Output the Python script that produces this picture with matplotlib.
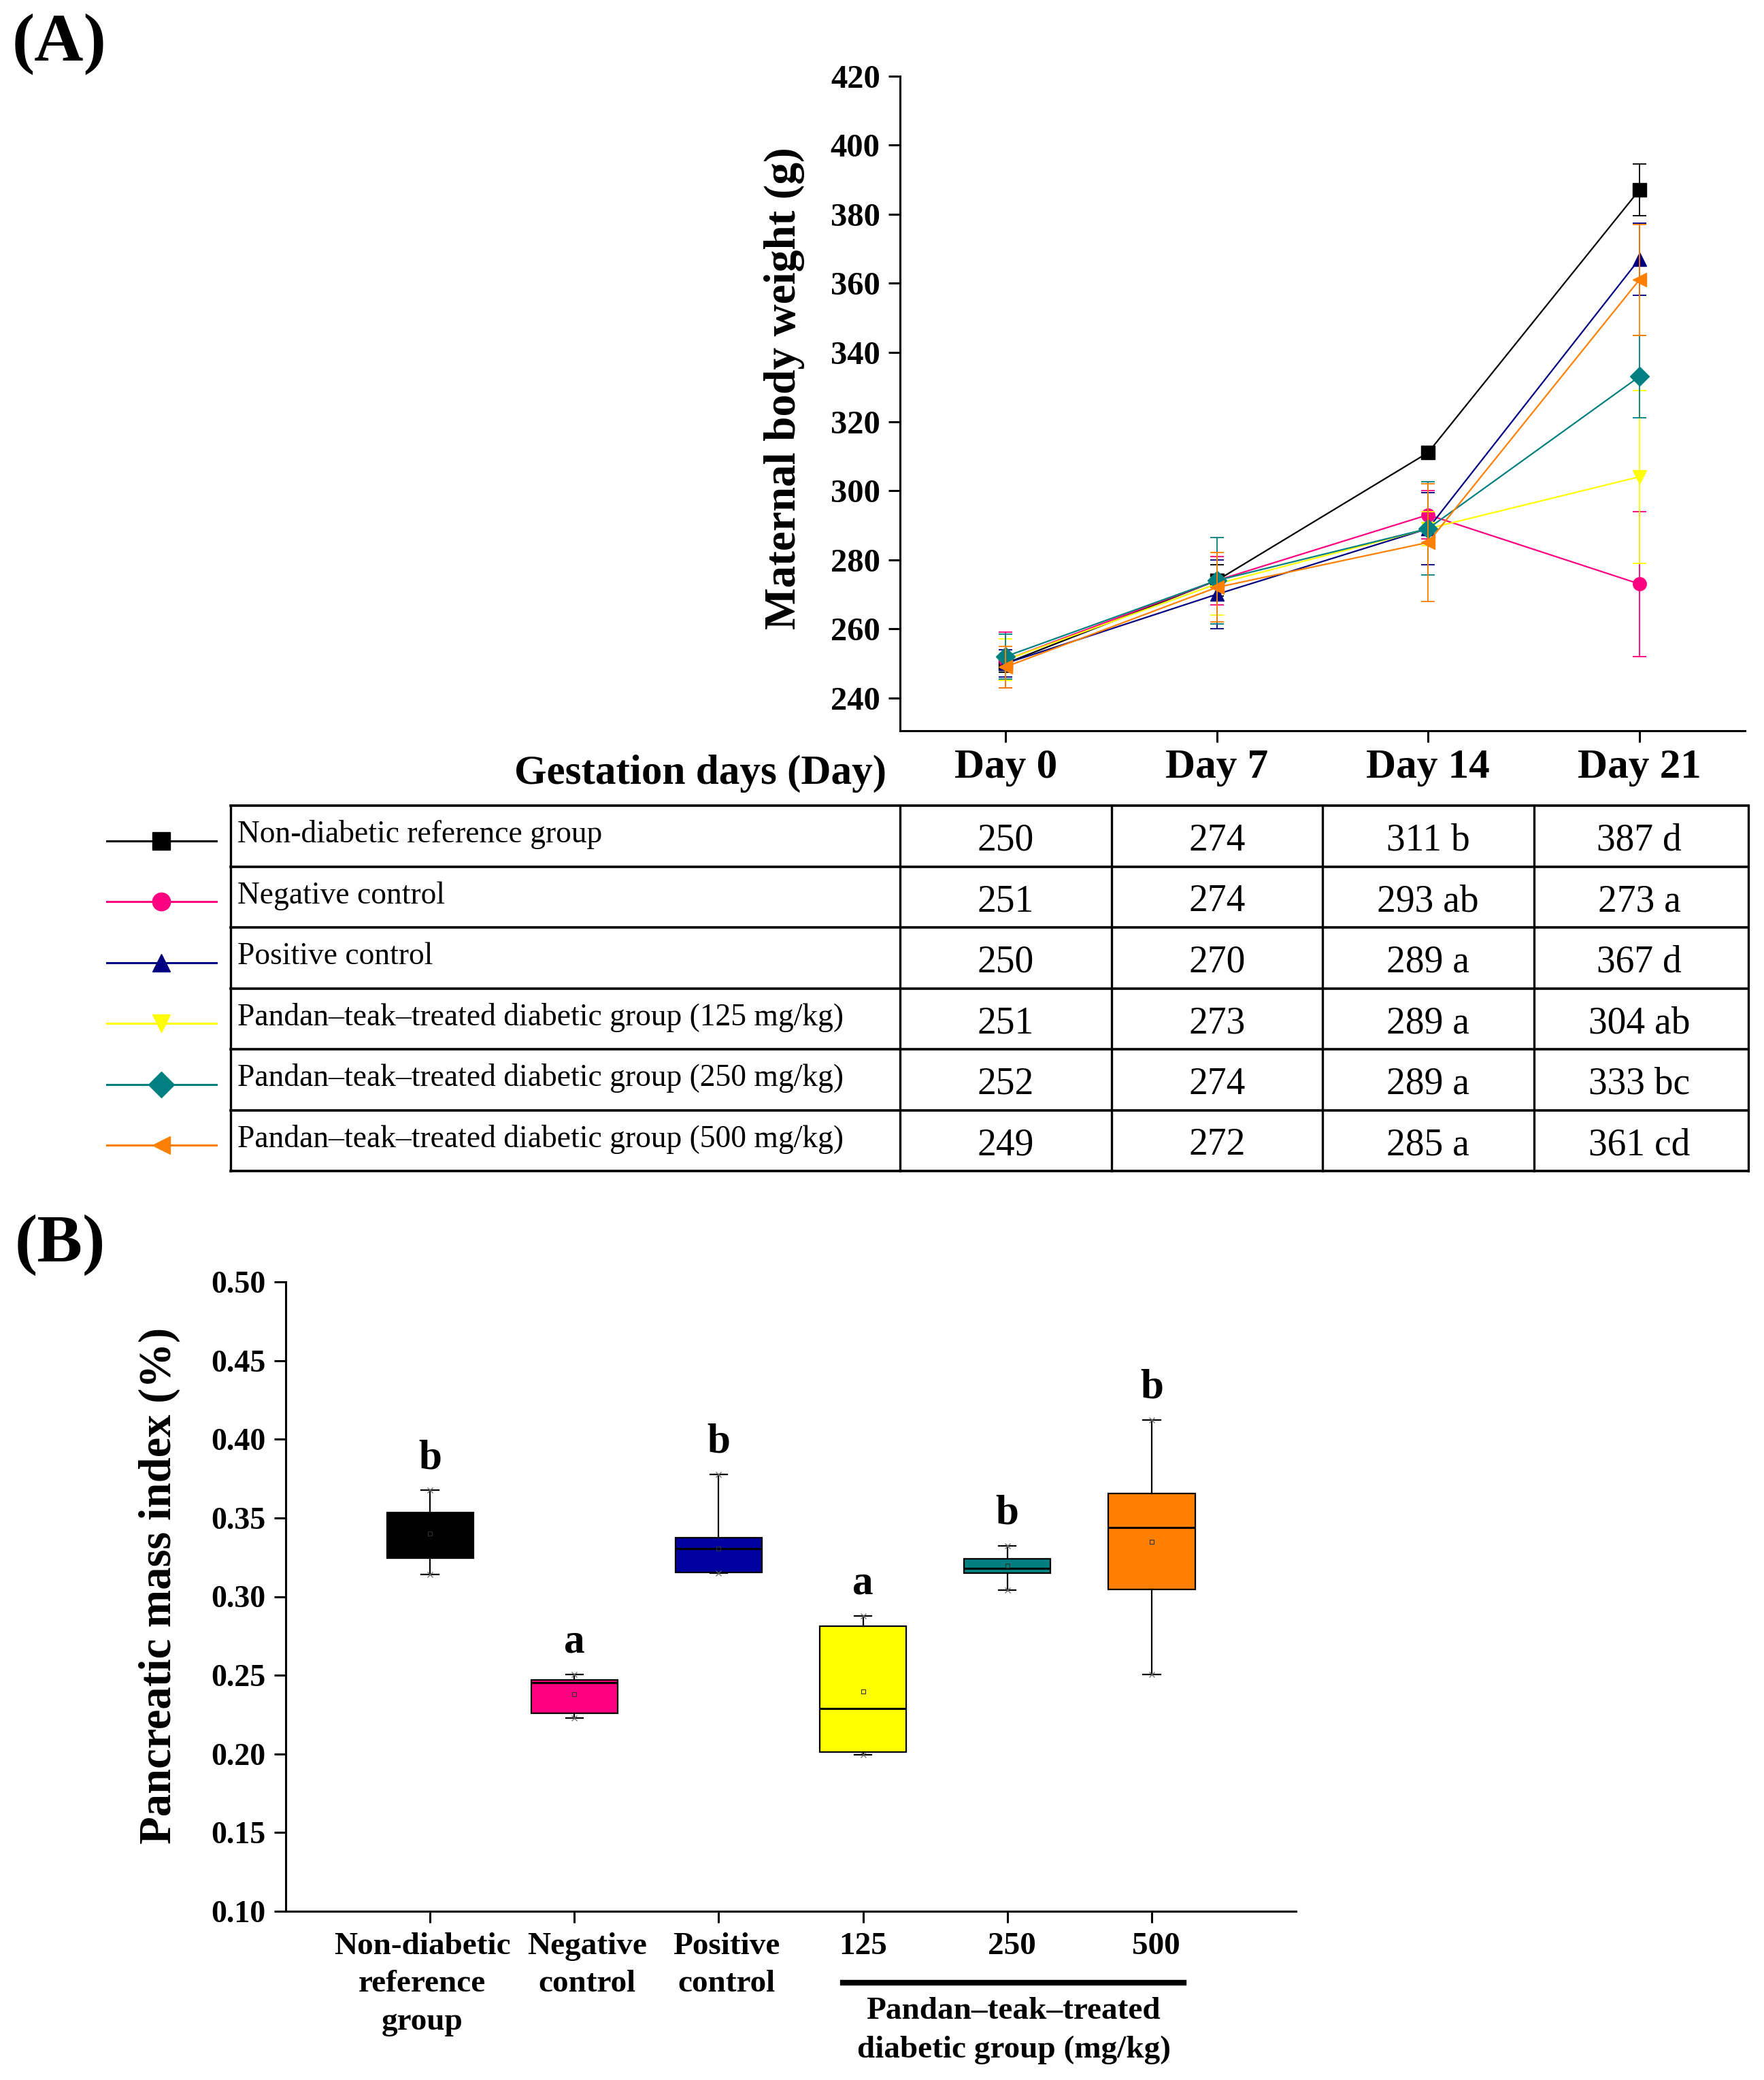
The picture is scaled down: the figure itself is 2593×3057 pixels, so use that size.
import matplotlib
matplotlib.use("Agg")
import matplotlib.pyplot as plt
from matplotlib.transforms import blended_transform_factory as btf

# ---------------- data : panel A ----------------
days = ["Day 0", "Day 7", "Day 14", "Day 21"]
groups = ["Non-diabetic reference group",
          "Negative control",
          "Positive control",
          "Pandan\u2013teak\u2013treated diabetic group (125 mg/kg)",
          "Pandan\u2013teak\u2013treated diabetic group (250 mg/kg)",
          "Pandan\u2013teak\u2013treated diabetic group (500 mg/kg)"]
w_nondiab = [250, 274, 311, 387]
w_neg = [251, 274, 293, 273]
w_pos = [250, 270, 289, 367]
w_125 = [251, 273, 289, 304]
w_250 = [252, 274, 289, 333]
w_500 = [249, 272, 285, 361]
sd_nondiab = [2.5, 4.5, 1.5, 7.5]
sd_neg = [8, 7, 7, 21]
sd_pos = [4, 10, 10.5, 10.5]
sd_125 = [6, 9, 5, 25]
sd_250 = [6.5, 12.5, 13.5, 12]
sd_500 = [6, 10, 17, 16]
letters_d14 = ["b", "ab", "a", "a", "a", "a"]
letters_d21 = ["d", "a", "d", "ab", "bc", "cd"]
yticks_A = [240, 260, 280, 300, 320, 340, 360, 380, 400, 420]

# ---------------- data : panel B ----------------
cats_B = ["Non-diabetic\nreference\ngroup", "Negative\ncontrol", "Positive\ncontrol",
          "125", "250", "500"]
q1_B = [0.3246, 0.2260, 0.3155, 0.2011, 0.3148, 0.3044]
med_B = [0.3350, 0.2455, 0.3305, 0.2290, 0.3180, 0.3441]
q3_B = [0.3535, 0.2470, 0.3375, 0.2813, 0.3242, 0.3657]
lo_B = [0.3140, 0.2227, 0.3150, 0.1994, 0.3040, 0.2506]
hi_B = [0.3675, 0.2505, 0.3776, 0.2876, 0.3323, 0.4121]
mean_B = [0.3400, 0.2381, 0.3305, 0.2398, 0.3197, 0.3350]
sig_B = ["b", "a", "b", "a", "b", "b"]
yticks_B = [0.10, 0.15, 0.20, 0.25, 0.30, 0.35, 0.40, 0.45, 0.50]

# ---------------- styles ----------------
colors = ["#000000", "#FF0080", "#000080", "#FFFF00", "#008080", "#FF8000"]
box_colors = ["#000000", "#FF0080", "#0000A0", "#FFFF00", "#008080", "#FF8000"]
markers = ["s", "o", "^", "v", "D", "<"]
cat_label_shift = [-0.055, 0.09, 0.055, 0.0, 0.03, 0.03]

W, H, DPI = 2593, 3057, 100
plt.rcParams['font.family'] = ['Liberation Serif', 'DejaVu Serif']

fig = plt.figure(figsize=(W / DPI, H / DPI), dpi=DPI)
ov = fig.add_axes([0, 0, 1, 1])
ov.set_xlim(0, W)
ov.set_ylim(H, 0)
ov.axis('off')
ov.set_zorder(0)


def fx(px):
    return px / W


def fy(py):
    return 1 - py / H


# ================= Panel A =================
A_L, A_R, A_T, A_B = 1323, 2565, 111.7, 1074
axA = fig.add_axes([fx(A_L), fy(A_B), fx(A_R) - fx(A_L), fy(A_T) - fy(A_B)])
axA.set_zorder(2)
axA.patch.set_alpha(0)
x = list(range(len(days)))
series = [w_nondiab, w_neg, w_pos, w_125, w_250, w_500]
sds = [sd_nondiab, sd_neg, sd_pos, sd_125, sd_250, sd_500]
order = [0, 1, 2, 3, 5, 4]
for k in order:
    c = colors[k]
    axA.errorbar(x, series[k], yerr=sds[k], color=c, marker=markers[k], ms=14,
                 mfc=c, mec=c, lw=1.6, elinewidth=1.3, capsize=7, capthick=1.3,
                 zorder=3 + k)
axA.set_xlim(-0.5, 3.5)
axA.set_ylim(230.5, 420)
axA.set_yticks(yticks_A)
axA.set_xticks(x)
axA.set_xticklabels(days)
for s in ["top", "right"]:
    axA.spines[s].set_visible(False)
for s in ["left", "bottom"]:
    axA.spines[s].set_linewidth(2.2)
axA.tick_params(axis='y', direction='out', length=12, width=2.2, labelsize=35, pad=9)
axA.tick_params(axis='x', direction='out', length=12, width=2.2, labelsize=44, pad=7)
for lab in axA.get_xticklabels() + axA.get_yticklabels():
    lab.set_fontweight('bold')

ov.text(1153, 571, "Maternal body weight (g)", rotation=90, ha='center', va='center',
        fontsize=47, fontweight='bold')
ov.text(1303, 1152, "Gestation days (Day)", ha='right', va='baseline',
        fontsize=44, fontweight='bold')
ov.text(18, 20, "(A)", ha='left', va='top', fontsize=72, fontweight='bold')

# ----- table -----
T_L, T_T, ROW_H = 339, 1184, 89.5
T_R = 2570
tA = btf(axA.transData, ov.transData)
nrows = len(groups)
for r in range(nrows + 1):
    yy = T_T + r * ROW_H
    ov.plot([T_L, T_R], [yy, yy], color='black', lw=2.6, solid_capstyle='projecting',
            clip_on=False)
ov.plot([T_L, T_L], [T_T, T_T + nrows * ROW_H], color='black', lw=2.4, clip_on=False)
ov.plot([T_R, T_R], [T_T, T_T + nrows * ROW_H], color='black', lw=2.4, clip_on=False)
for b in [-0.5, 0.5, 1.5, 2.5]:
    ov.plot([b, b], [T_T, T_T + nrows * ROW_H], color='black', lw=2.4,
            transform=tA, clip_on=False)
for r in range(nrows):
    yc = T_T + (r + 0.5) * ROW_H
    c = colors[r]
    ov.plot([157, 318], [yc + 7, yc + 7], color=c, lw=2.2, clip_on=False)
    ov.plot([237], [yc + 7], marker=markers[r], ms=19, color=c, mfc=c, mec=c,
            clip_on=False)
    ov.text(349, yc - 2, groups[r], ha='left', va='center', fontsize=32.8)
    vals = series[r]
    cells = [f"{vals[0]}", f"{vals[1]}", f"{vals[2]} {letters_d14[r]}",
             f"{vals[3]} {letters_d21[r]}"]
    for i, t in enumerate(cells):
        ov.text(i, yc + 7, t, ha='center', va='center', fontsize=40, transform=tA)

# ================= Panel B =================
B_L, B_R, B_T, B_B = 420, 1905, 1884, 2809
axB = fig.add_axes([fx(B_L), fy(B_B), fx(B_R) - fx(B_L), fy(B_T) - fy(B_B)])
axB.set_zorder(2)
axB.patch.set_alpha(0)
pos = list(range(1, len(cats_B) + 1))
stats = []
for i in range(len(cats_B)):
    stats.append(dict(med=med_B[i], q1=q1_B[i], q3=q3_B[i], whislo=lo_B[i],
                      whishi=hi_B[i], mean=mean_B[i], fliers=[]))
bp = axB.bxp(stats, positions=pos, widths=0.6, patch_artist=True, showmeans=True,
             capwidths=0.12,
             boxprops=dict(linewidth=1.6, edgecolor='black'),
             medianprops=dict(color='black', linewidth=2.2),
             whiskerprops=dict(color='black', linewidth=1.6),
             capprops=dict(color='black', linewidth=1.6),
             meanprops=dict(marker='s', markerfacecolor='none',
                            markeredgecolor='#303030', markersize=5,
                            markeredgewidth=0.8))
for patch, fc in zip(bp['boxes'], box_colors):
    patch.set_facecolor(fc)
axB.plot(pos, hi_B, 'x', color='#666666', ms=6, mew=0.9, zorder=4)
axB.plot(pos, lo_B, 'x', color='#666666', ms=6, mew=0.9, zorder=4)
for p, h, s in zip(pos, hi_B, sig_B):
    axB.text(p, h + 0.014, s, ha='center', va='baseline', fontsize=44,
             fontweight='bold')
axB.set_xlim(0, 7)
axB.set_ylim(0.10, 0.50)
axB.set_yticks(yticks_B)
axB.set_yticklabels([f"{v:.2f}" for v in yticks_B])
axB.set_xticks(pos)
axB.set_xticklabels([])
tB = btf(axB.transData, ov.transData)
for p, lab, dx in zip(pos, cats_B, cat_label_shift):
    ov.text(p + dx, 2840, lab, ha='center', va='top', fontsize=34, fontweight='bold',
            linespacing=1.42, transform=tB)
for s in ["top", "right"]:
    axB.spines[s].set_visible(False)
for s in ["left", "bottom"]:
    axB.spines[s].set_linewidth(2.2)
axB.tick_params(axis='y', direction='out', length=12, width=2.2, labelsize=33, pad=9)
axB.tick_params(axis='x', direction='out', length=12, width=2.2)
for lab in axB.get_yticklabels():
    lab.set_fontweight('bold')

ov.text(234, 2330, "Pancreatic mass index (%)", rotation=90, ha='center', va='center',
        fontsize=48, fontweight='bold')
ov.text(22, 1785, "(B)", ha='left', va='top', fontsize=72, fontweight='bold')
ov.plot([1239, 1740], [2914, 2914], color='black', lw=6, clip_on=False)
ov.text(1490, 2956, "Pandan\u2013teak\u2013treated", ha='center', va='center',
        fontsize=34, fontweight='bold')
ov.text(1490, 3013, "diabetic group (mg/kg)", ha='center', va='center',
        fontsize=34, fontweight='bold')

fig.savefig("out.png", dpi=DPI)
